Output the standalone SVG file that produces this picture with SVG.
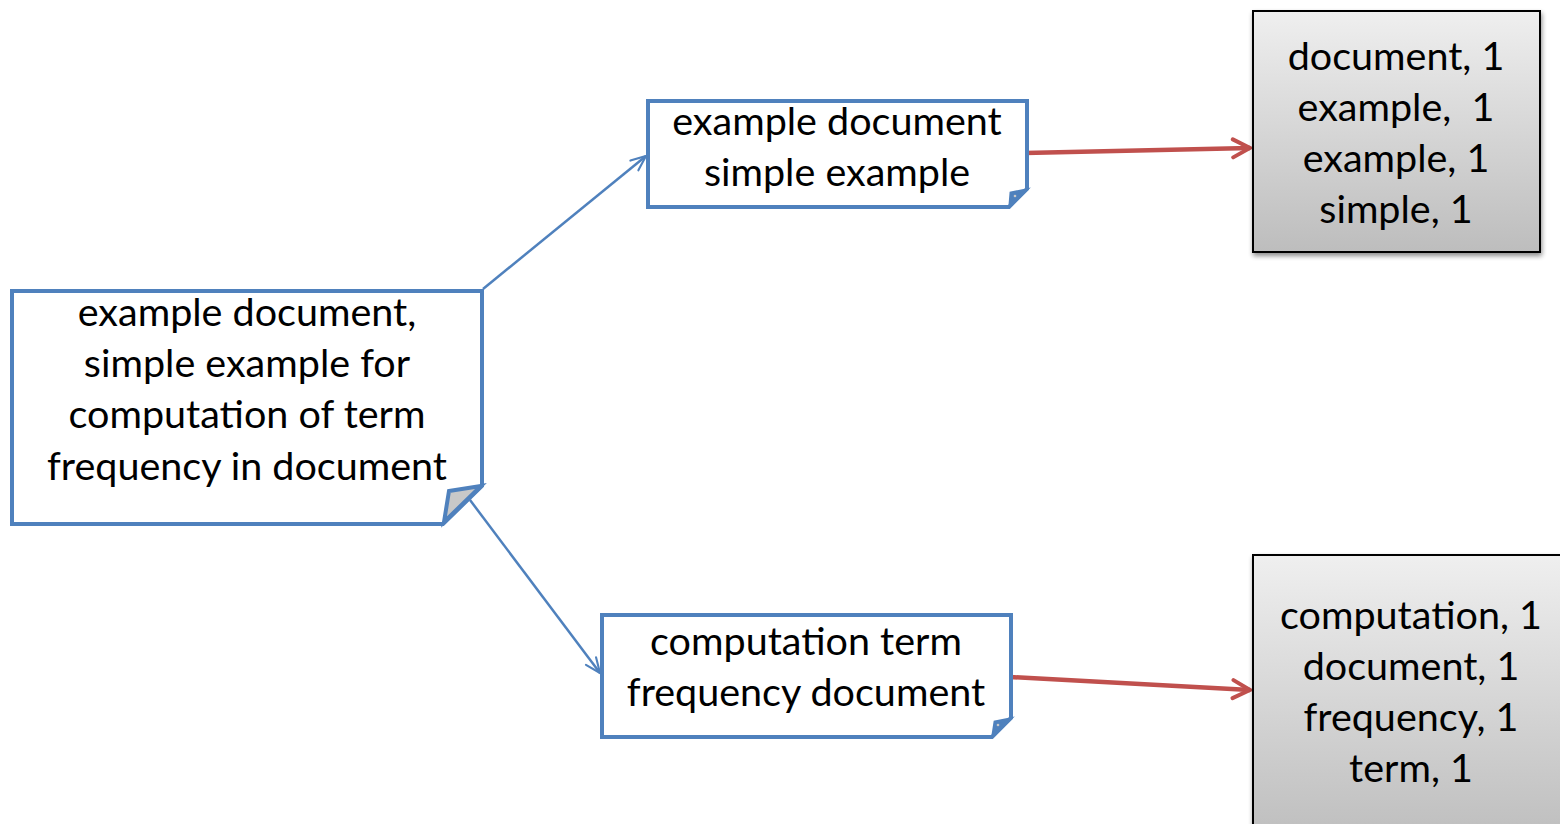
<svg xmlns="http://www.w3.org/2000/svg" width="1560" height="824" viewBox="0 0 1560 824">
  <style>
    .note { fill: #ffffff; stroke: #4f81bd; stroke-width: 4; stroke-linejoin: miter; }
    .flap { fill: #c8c8c8; stroke: #4f81bd; stroke-width: 4; stroke-linejoin: miter; }
    .flap-small { fill: #4f81bd; stroke: #4f81bd; stroke-width: 3; stroke-linejoin: miter; }
    .result { fill: url(#grayGrad); stroke: #000000; stroke-width: 2; filter: url(#shadow); }
    .label { font-family: Lato, "Open Sans", "Liberation Sans", sans-serif; font-size: 39.5px; fill: #000000; text-anchor: middle; }
    .blue { stroke: #4f81bd; stroke-width: 2.5; fill: none; }
    .red { stroke: #c0504d; stroke-width: 4.5; fill: none; }
  </style>
  <defs>
    <linearGradient id="grayGrad" x1="0" y1="0" x2="0" y2="1">
      <stop offset="0" stop-color="#efefef"/>
      <stop offset="1" stop-color="#bdbdbd"/>
    </linearGradient>
    <filter id="shadow" x="-10%" y="-10%" width="120%" height="120%">
      <feGaussianBlur in="SourceAlpha" stdDeviation="2.5"/>
      <feOffset dx="1" dy="3" result="b"/>
      <feComponentTransfer><feFuncA type="linear" slope="0.45"/></feComponentTransfer>
      <feMerge><feMergeNode/><feMergeNode in="SourceGraphic"/></feMerge>
    </filter>
    <marker id="arrowBlue" viewBox="0 0 12 12" refX="11" refY="6" markerWidth="18" markerHeight="18" markerUnits="userSpaceOnUse" orient="auto">
      <path d="M1,1.8 L11,6 L1,10.2" fill="none" stroke="#4f81bd" stroke-width="1.4" stroke-linecap="round"/>
    </marker>
    <marker id="arrowRed" viewBox="0 0 12 12" refX="10.5" refY="6" markerWidth="24" markerHeight="24" markerUnits="userSpaceOnUse" orient="auto">
      <path d="M2,1.5 L10.5,6 L2,10.5" fill="none" stroke="#c0504d" stroke-width="2" stroke-linecap="round"/>
    </marker>
  </defs>

  <!-- connectors -->
  <g id="connectors">
    <line class="blue" x1="483" y1="289" x2="646" y2="156" marker-end="url(#arrowBlue)"/>
    <line class="blue" x1="470" y1="500" x2="600" y2="673" marker-end="url(#arrowBlue)"/>
    <line class="red" x1="1025" y1="153" x2="1250" y2="148" marker-end="url(#arrowRed)"/>
    <line class="red" x1="1010" y1="677" x2="1250" y2="690" marker-end="url(#arrowRed)"/>
  </g>

  <!-- source document -->
  <g id="source">
    <path class="note" d="M12,291 H482 V486 L443,524 H12 Z"/>
    <path class="flap" d="M449,491 L481,486 L444,522 Z"/>
    <text class="label" x="247" y="326">example document,</text>
    <text class="label" x="247" y="377">simple example for</text>
    <text class="label" x="247" y="428">computation of term</text>
    <text class="label" x="247" y="480">frequency in document</text>
  </g>

  <!-- first split -->
  <g id="split1">
    <path class="note" d="M648,101 H1027 V189 L1009,207 H648 Z"/>
    <path class="flap-small" d="M1011,193 L1026,190 L1010,205 Z"/>
    <circle cx="1015" cy="196" r="1.3" fill="#c8c8c8"/>
    <text class="label" x="837" y="135">example document</text>
    <text class="label" x="837" y="186">simple example</text>
  </g>

  <!-- second split -->
  <g id="split2">
    <path class="note" d="M602,615 H1011 V718 L992,737 H602 Z"/>
    <path class="flap-small" d="M995,722 L1010,719 L993,735 Z"/>
    <circle cx="998" cy="725" r="1.3" fill="#c8c8c8"/>
    <text class="label" x="806" y="655">computation term</text>
    <text class="label" x="806" y="706">frequency document</text>
  </g>

  <!-- first result -->
  <g id="result1">
    <rect class="result" x="1253" y="11" width="287" height="241"/>
    <text class="label" x="1396" y="70">document, 1</text>
    <text class="label" x="1396" y="121" xml:space="preserve">example,  1</text>
    <text class="label" x="1396" y="172">example, 1</text>
    <text class="label" x="1396" y="223">simple, 1</text>
  </g>

  <!-- second result -->
  <g id="result2">
    <rect class="result" x="1253" y="555" width="320" height="290"/>
    <text class="label" x="1411" y="629">computation, 1</text>
    <text class="label" x="1411" y="680">document, 1</text>
    <text class="label" x="1411" y="731">frequency, 1</text>
    <text class="label" x="1411" y="782">term, 1</text>
  </g>
</svg>
